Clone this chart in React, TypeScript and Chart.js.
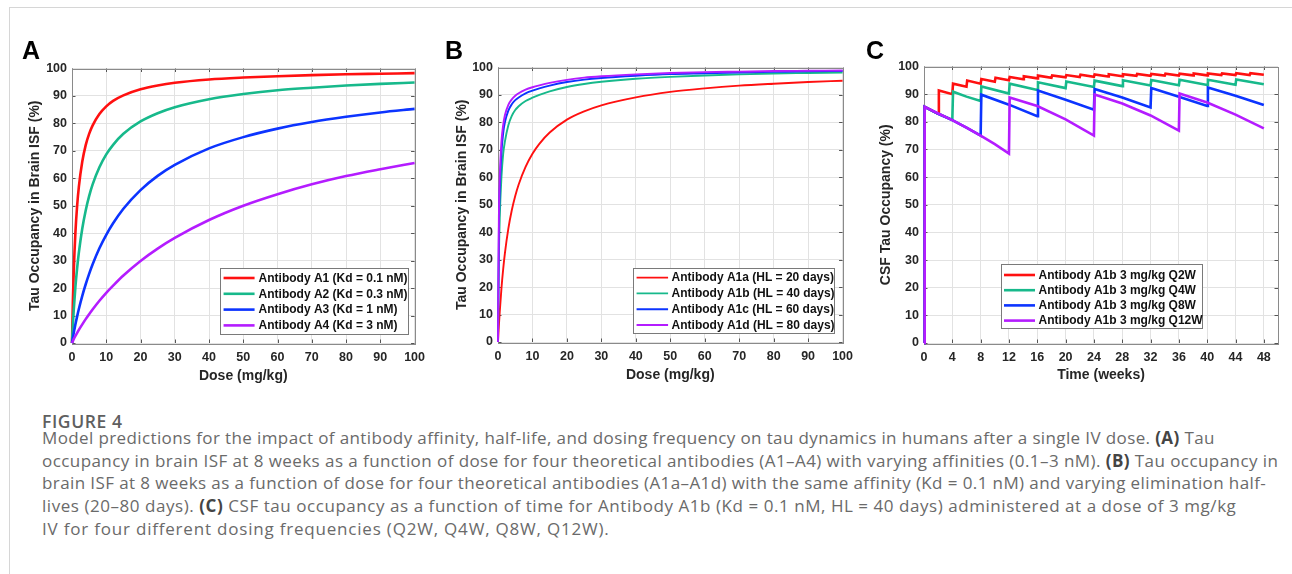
import React, { useEffect, useRef } from 'react';
import { Chart, registerables } from 'chart.js';
Chart.register(...registerables);

const FONT = "'Liberation Sans', Arial, Helvetica, sans-serif";
const RED = '#ff1010';
const GREEN = '#17b98b';
const BLUE = '#0c34ff';
const PURPLE = '#b41cff';
const GRID = '#e2e2e2';
const BOX = '#8a8a8a';
const INK = '#262626';

// ---------- Panel A : occupancy vs dose, varying Kd ----------
const doseA = [0, 0.25, 0.5, 1, 1.5, 2, 3, 4, 5, 6, 8, 10, 12, 15, 20, 25, 30, 40, 50, 60, 70, 80, 90, 100];
const occA1 = [0, 15.0, 25.7, 40.3, 50.0, 56.9, 66.1, 72.1, 76.2, 79.2, 83.4, 86.2, 88.2, 90.2, 92.4, 93.8, 94.8, 96.0, 96.7, 97.2, 97.6, 97.9, 98.1, 98.3];
const occA2 = [0, 6.6, 11.9, 20.5, 27.3, 32.9, 41.7, 48.3, 53.5, 57.7, 64.0, 68.7, 72.2, 76.2, 80.7, 83.7, 85.9, 88.8, 90.7, 92.1, 93.0, 93.8, 94.4, 94.9];
const occA3 = [0, 1.9, 3.6, 6.8, 9.7, 12.4, 17.2, 21.4, 25.2, 28.6, 34.5, 39.4, 43.6, 48.9, 55.7, 60.9, 64.9, 70.9, 75.0, 78.1, 80.5, 82.4, 84.0, 85.3];
const occA4 = [0, 0.7, 1.4, 2.6, 3.7, 4.8, 6.8, 8.7, 10.5, 12.2, 15.4, 18.3, 20.9, 24.6, 29.9, 34.4, 38.3, 44.8, 50.0, 54.2, 57.8, 60.8, 63.3, 65.6];
const labelsA = ['Antibody A1 (Kd = 0.1 nM)', 'Antibody A2 (Kd = 0.3 nM)', 'Antibody A3 (Kd = 1 nM)', 'Antibody A4 (Kd = 3 nM)'];

// ---------- Panel B : occupancy vs dose, varying half-life ----------
const doseB = [0, 0.25, 0.5, 1, 1.5, 2, 3, 4, 5, 6, 8, 10, 12, 15, 20, 25, 30, 40, 50, 60, 70, 80, 90, 100];
const occB1 = [0, 5.9, 10.9, 19.5, 26.5, 32.3, 41.3, 48.0, 53.2, 57.4, 63.8, 68.6, 72.2, 76.3, 81.0, 84.0, 86.2, 89.1, 91.1, 92.4, 93.4, 94.1, 94.7, 95.2];
const occB2 = [0, 30, 45, 60, 68.5, 73, 79, 82.4, 84.5, 85.9, 87.8, 89.0, 90.0, 91.3, 92.9, 94.0, 94.8, 95.9, 96.6, 97.1, 97.5, 97.8, 98.0, 98.2];
const occB3 = [0, 40, 55, 69, 76, 80, 84.3, 86.6, 88.1, 89.1, 90.6, 91.6, 92.4, 93.4, 94.7, 95.6, 96.2, 97.0, 97.6, 97.9, 98.2, 98.4, 98.6, 98.7];
const occB4 = [0, 45, 60, 73, 79, 82.6, 86.4, 88.4, 89.7, 90.6, 91.9, 92.8, 93.5, 94.4, 95.5, 96.3, 96.8, 97.5, 98.0, 98.3, 98.5, 98.7, 98.8, 98.9];
const labelsB = ['Antibody A1a (HL = 20 days)', 'Antibody A1b (HL = 40 days)', 'Antibody A1c (HL = 60 days)', 'Antibody A1d (HL = 80 days)'];

// ---------- Panel C : CSF occupancy vs time, dosing frequency ----------
const timeQ2W = [0, 0.1, 2, 2.1, 4, 4.1, 6, 6.1, 8, 8.1, 10, 10.1, 12, 12.1, 14, 14.1, 16, 16.1, 18, 18.1, 20, 20.1, 22, 22.1, 24, 24.1, 26, 26.1, 28, 28.1, 30, 30.1, 32, 32.1, 34, 34.1, 36, 36.1, 38, 38.1, 40, 40.1, 42, 42.1, 44, 44.1, 46, 46.1, 48];
const occQ2W = [0, 85.4, 82.9, 91.3, 90.0, 93.8, 92.7, 94.9, 93.8, 95.5, 94.5, 95.9, 95.0, 96.2, 95.4, 96.5, 95.7, 96.7, 95.9, 96.8, 96.1, 96.9, 96.2, 97.0, 96.3, 97.1, 96.4, 97.2, 96.5, 97.2, 96.6, 97.3, 96.6, 97.3, 96.7, 97.4, 96.7, 97.4, 96.8, 97.5, 96.8, 97.5, 96.9, 97.5, 96.9, 97.6, 96.9, 97.6, 97.0];
const timeQ4W = [0, 0.1, 2, 4, 4.1, 6, 8, 8.1, 12, 12.1, 16, 16.1, 20, 20.1, 24, 24.1, 28, 28.1, 32, 32.1, 36, 36.1, 40, 40.1, 44, 44.1, 48];
const occQ4W = [0, 85.4, 82.9, 80.7, 90.9, 89.1, 87.5, 92.8, 90.2, 93.8, 91.5, 94.3, 92.2, 94.6, 92.6, 94.9, 92.9, 95.0, 93.1, 95.1, 93.2, 95.2, 93.3, 95.2, 93.4, 95.3, 93.6];
const timeQ8W = [0, 0.1, 2, 4, 6, 8, 8.1, 12, 16, 16.1, 20, 24, 24.1, 28, 32, 32.1, 36, 40, 40.1, 44, 48];
const occQ8W = [0, 85.4, 82.9, 80.6, 77.9, 75.0, 89.8, 86.2, 82.0, 91.3, 88.0, 84.4, 91.9, 88.8, 85.2, 92.2, 89.1, 85.7, 92.4, 89.4, 86.1];
const timeQ12W = [0, 0.1, 2, 4, 6, 8, 10, 12, 12.1, 16, 20, 24, 24.1, 28, 32, 36, 36.1, 40, 44, 48];
const occQ12W = [0, 85.4, 83.0, 80.6, 77.9, 75.0, 71.9, 68.5, 88.8, 85.7, 80.9, 75.0, 89.9, 86.6, 82.3, 76.8, 90.2, 87.0, 82.6, 77.6];
const labelsC = ['Antibody A1b 3 mg/kg Q2W', 'Antibody A1b 3 mg/kg Q4W', 'Antibody A1b 3 mg/kg Q8W', 'Antibody A1b 3 mg/kg Q12W'];

const COLORS = [RED, GREEN, BLUE, PURPLE];

const pts = (xs: number[], ys: number[]) => xs.map((x, i) => ({ x, y: ys[i] }));

function boxPlugin() {
  return {
    id: 'mbox',
    beforeDatasetsDraw(chart: any) {
      const { ctx, chartArea: a, scales } = chart;
      ctx.save();
      ctx.strokeStyle = '#555';
      ctx.lineWidth = 1;
      const tl = 3.5;
      ctx.beginPath();
      scales.x.ticks.forEach((t: any) => {
        const px = Math.round(scales.x.getPixelForValue(t.value)) + 0.5;
        ctx.moveTo(px, a.bottom); ctx.lineTo(px, a.bottom - tl);
        ctx.moveTo(px, a.top); ctx.lineTo(px, a.top + tl);
      });
      scales.y.ticks.forEach((t: any) => {
        const py = Math.round(scales.y.getPixelForValue(t.value)) + 0.5;
        ctx.moveTo(a.left, py); ctx.lineTo(a.left + tl, py);
        ctx.moveTo(a.right, py); ctx.lineTo(a.right - tl, py);
      });
      ctx.stroke();
      ctx.strokeStyle = BOX;
      ctx.strokeRect(Math.round(a.left) + 0.5, Math.round(a.top) + 0.5, Math.round(a.right - a.left), Math.round(a.bottom - a.top));
      ctx.restore();
    },
  };
}

type LegendSpec = { left?: number; right?: number; bottom: number; width: number; height: number; lineStart: number; lineEnd: number; textX: number; firstRow: number; rowGap: number };

function legendPlugin(spec: LegendSpec) {
  return {
    id: 'mlegend',
    afterDatasetsDraw(chart: any) {
      const { ctx, chartArea: a } = chart;
      const x0 = spec.left !== undefined ? a.left + spec.left : a.right - (spec.right || 0) - spec.width;
      const y0 = a.bottom - spec.bottom - spec.height;
      ctx.save();
      ctx.fillStyle = '#ffffff';
      ctx.fillRect(Math.round(x0) + 0.5, Math.round(y0) + 0.5, spec.width, spec.height);
      ctx.strokeStyle = '#7a7a7a';
      ctx.lineWidth = 1;
      ctx.strokeRect(Math.round(x0) + 0.5, Math.round(y0) + 0.5, spec.width, spec.height);
      ctx.font = `bold 12px ${FONT}`;
      ctx.textBaseline = 'middle';
      ctx.textAlign = 'left';
      chart.data.datasets.forEach((ds: any, i: number) => {
        const y = y0 + spec.firstRow + i * spec.rowGap;
        ctx.strokeStyle = ds.borderColor;
        ctx.lineWidth = ds.borderWidth;
        ctx.beginPath();
        ctx.moveTo(x0 + spec.lineStart, y);
        ctx.lineTo(x0 + spec.lineEnd, y);
        ctx.stroke();
        ctx.fillStyle = '#111';
        ctx.fillText(ds.label, x0 + spec.textX, y + 0.5);
      });
      ctx.restore();
    },
  };
}

type PanelSpec = {
  xMax: number; xStep: number; xTitle: string; yTitle: string;
  yAxisW: number; xAxisH: number; yTitlePad: number; xTitlePad: number; padTop: number; padRight: number;
  curved: boolean; lineWidth: number;
  series: { label: string; data: { x: number; y: number }[] }[];
  legend: LegendSpec;
};

function buildConfig(p: PanelSpec): any {
  const tickFont = { family: FONT, size: 12.5, weight: 'bold' as const };
  const titleFont = { family: FONT, size: 14, weight: 'bold' as const };
  return {
    type: 'line',
    data: {
      datasets: p.series.map((s, i) => ({
        label: s.label,
        data: s.data,
        borderColor: COLORS[i],
        backgroundColor: COLORS[i],
        borderWidth: p.lineWidth,
        pointRadius: 0,
        fill: false,
        tension: 0,
        cubicInterpolationMode: p.curved ? 'monotone' : 'default',
        order: 4 - i,
        clip: 6,
      })),
    },
    options: {
      responsive: false,
      animation: false,
      events: [],
      layout: { padding: { left: 0, top: p.padTop, right: p.padRight, bottom: 0 } },
      plugins: { legend: { display: false }, tooltip: { enabled: false } },
      scales: {
        x: {
          type: 'linear',
          min: 0,
          max: p.xMax,
          afterFit: (s: any) => { s.height = p.xAxisH; },
          border: { display: false },
          grid: { color: GRID, drawTicks: false, lineWidth: 1 },
          ticks: { stepSize: p.xStep, includeBounds: false, padding: 7, color: INK, font: tickFont, maxRotation: 0, autoSkip: false },
          title: { display: true, text: p.xTitle, color: INK, font: titleFont, padding: { top: 0, bottom: p.xTitlePad } },
        },
        y: {
          type: 'linear',
          min: 0,
          max: 100,
          afterFit: (s: any) => { s.width = p.yAxisW; },
          border: { display: false },
          grid: { color: GRID, drawTicks: false, lineWidth: 1 },
          ticks: { stepSize: 10, padding: 5, color: INK, font: tickFont, autoSkip: false },
          title: { display: true, text: p.yTitle, color: INK, font: titleFont, padding: { top: p.yTitlePad, bottom: 0 } },
        },
      },
    },
    plugins: [boxPlugin(), legendPlugin(p.legend)],
  };
}

function Panel({ left, top, width, height, spec, letter, letterX }: { left: number; top: number; width: number; height: number; spec: PanelSpec; letter: string; letterX: number }) {
  const ref = useRef<HTMLCanvasElement | null>(null);
  useEffect(() => {
    if (!ref.current) return;
    const chart = new Chart(ref.current, buildConfig(spec));
    return () => chart.destroy();
  }, []);
  return (
    <>
      <canvas ref={ref} width={width} height={height} style={{ position: 'absolute', left, top, width, height }} />
      <div style={{ position: 'absolute', left: letterX, top: 35, font: `bold 25px ${FONT}`, color: '#000', lineHeight: '30px' }}>{letter}</div>
    </>
  );
}

const specA: PanelSpec = {
  xMax: 100, xStep: 10, xTitle: 'Dose (mg/kg)', yTitle: 'Tau Occupancy in Brain ISF (%)',
  yAxisW: 58, xAxisH: 52, yTitlePad: 13, xTitlePad: 10, padTop: 12, padRight: 8, curved: true, lineWidth: 2.6,
  series: [
    { label: labelsA[0], data: pts(doseA, occA1) },
    { label: labelsA[1], data: pts(doseA, occA2) },
    { label: labelsA[2], data: pts(doseA, occA3) },
    { label: labelsA[3], data: pts(doseA, occA4) },
  ],
  legend: { right: 7, bottom: 9, width: 188, height: 66, lineStart: 4, lineEnd: 35, textX: 39, firstRow: 10, rowGap: 15.8 },
};

const specB: PanelSpec = {
  xMax: 100, xStep: 10, xTitle: 'Dose (mg/kg)', yTitle: 'Tau Occupancy in Brain ISF (%)',
  yAxisW: 58, xAxisH: 52, yTitlePad: 13.3, xTitlePad: 10.6, padTop: 12, padRight: 8, curved: true, lineWidth: 1.9,
  series: [
    { label: labelsB[0], data: pts(doseB, occB1) },
    { label: labelsB[1], data: pts(doseB, occB2) },
    { label: labelsB[2], data: pts(doseB, occB3) },
    { label: labelsB[3], data: pts(doseB, occB4) },
  ],
  legend: { right: 9, bottom: 9, width: 201, height: 65, lineStart: 4, lineEnd: 35.5, textX: 39, firstRow: 9.6, rowGap: 15.8 },
};

const specC: PanelSpec = {
  xMax: 50, xStep: 4, xTitle: 'Time (weeks)', yTitle: 'CSF Tau Occupancy (%)',
  yAxisW: 58, xAxisH: 52, yTitlePad: 12.1, xTitlePad: 11.6, padTop: 12, padRight: 8, curved: false, lineWidth: 2.6,
  series: [
    { label: labelsC[0], data: pts(timeQ2W, occQ2W) },
    { label: labelsC[1], data: pts(timeQ4W, occQ4W) },
    { label: labelsC[2], data: pts(timeQ8W, occQ8W) },
    { label: labelsC[3], data: pts(timeQ12W, occQ12W) },
  ],
  legend: { left: 77, bottom: 15, width: 201, height: 64, lineStart: 3, lineEnd: 34, textX: 37.6, firstRow: 11, rowGap: 15.2 },
};

const CAP_FONT = "'Open Sans', 'Noto Sans', sans-serif";

function CapLine({ top, ls, children }: { top: number; ls: number; children: React.ReactNode }) {
  return (
    <div style={{ position: 'absolute', left: 42, top, font: `400 17px ${CAP_FONT}`, letterSpacing: `${ls}px`, color: '#6a6a6a', lineHeight: '22.7px', whiteSpace: 'nowrap' }}>{children}</div>
  );
}

export default function App() {
  const b = (t: string) => <b style={{ fontWeight: 700, color: '#444' }}>{t}</b>;
  return (
    <div style={{ position: 'absolute', left: 0, top: 0, width: 1292, height: 574, background: '#fff', overflow: 'hidden' }}>
      <div style={{ position: 'absolute', left: 9, top: 7, width: 1283, height: 567, borderTop: '1px solid #d6d6d6', borderLeft: '1px solid #d6d6d6', boxSizing: 'border-box' }} />
      <Panel left={14} top={56} width={418} height={339} spec={specA} letter="A" letterX={22} />
      <Panel left={440} top={55} width={420} height={339} spec={specB} letter="B" letterX={445} />
      <Panel left={866} top={54} width={420} height={341} spec={specC} letter="C" letterX={866} />
      <div style={{ position: 'absolute', left: 42, top: 410, font: `600 17.5px ${CAP_FONT}`, letterSpacing: '0.6px', color: '#5f5f5f', lineHeight: '22.7px', whiteSpace: 'nowrap' }}>FIGURE 4</div>
      <CapLine top={427} ls={0.38}>Model predictions for the impact of antibody affinity, half-life, and dosing frequency on tau dynamics in humans after a single IV dose. {b('(A)')} Tau</CapLine>
      <CapLine top={449.7} ls={0.43}>occupancy in brain ISF at 8 weeks as a function of dose for four theoretical antibodies (A1–A4) with varying affinities (0.1–3 nM). {b('(B)')} Tau occupancy in</CapLine>
      <CapLine top={472.4} ls={0.4}>brain ISF at 8 weeks as a function of dose for four theoretical antibodies (A1a–A1d) with the same affinity (Kd = 0.1 nM) and varying elimination half-</CapLine>
      <CapLine top={495.1} ls={0.55}>lives (20–80 days). {b('(C)')} CSF tau occupancy as a function of time for Antibody A1b (Kd = 0.1 nM, HL = 40 days) administered at a dose of 3 mg/kg</CapLine>
      <CapLine top={517.8} ls={0.8}>IV for four different dosing frequencies (Q2W, Q4W, Q8W, Q12W).</CapLine>
    </div>
  );
}
